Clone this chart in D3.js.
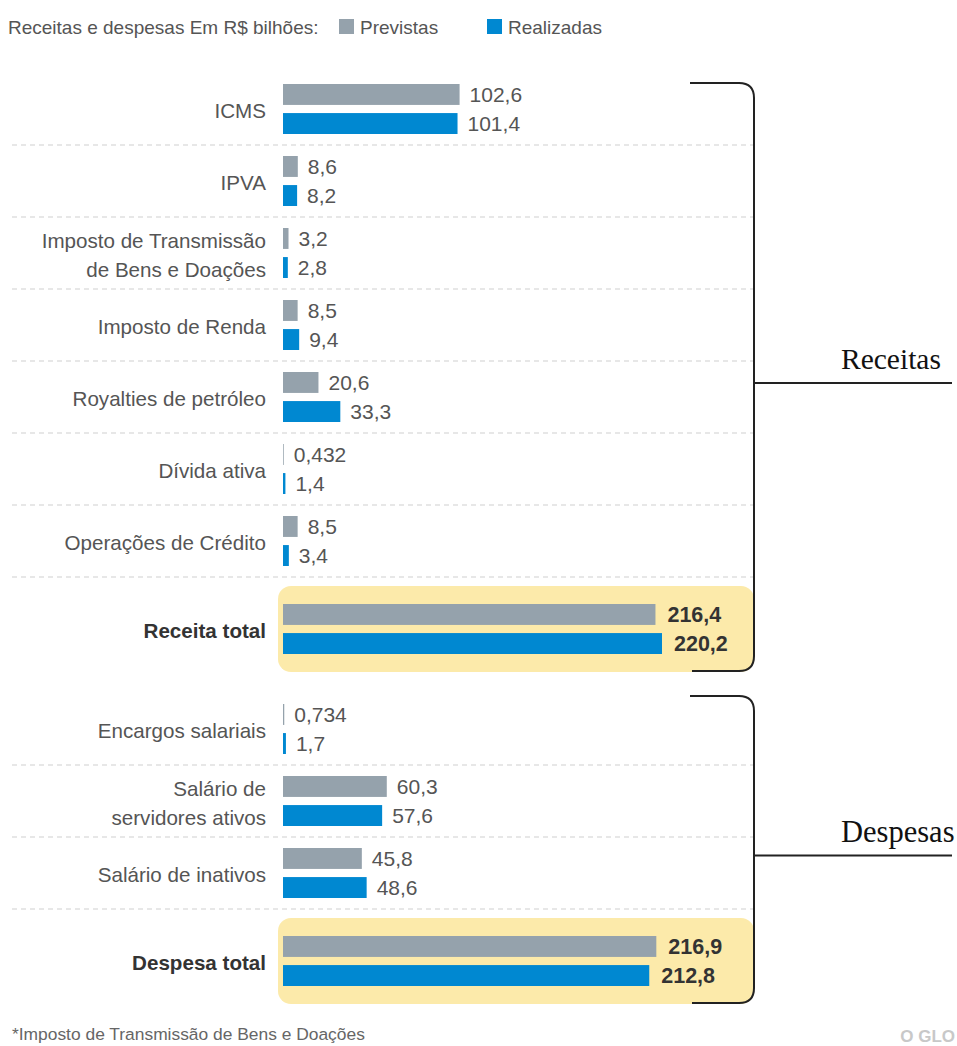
<!DOCTYPE html>
<html>
<head>
<meta charset="utf-8">
<script src="https://cdn.jsdelivr.net/npm/d3@7"></script>
<style>
  body { margin: 0; background: #fff; }
  svg { display: block; font-family: "Liberation Sans", Arial, sans-serif; }
</style>
</head>
<body>
<div id="chart"></div>
<script>
// ---- data ----
const series = ["Previstas", "Realizadas"];
const seriesColors = ["#95a2ac", "#0088d1"];

const receitasCategories = ["ICMS", "IPVA", "Imposto de Transmissão\nde Bens e Doações", "Imposto de Renda",
  "Royalties de petróleo", "Dívida ativa", "Operações de Crédito"];
const receitasPrevistas = [102.6, 8.6, 3.2, 8.5, 20.6, 0.432, 8.5];
const receitasRealizadas = [101.4, 8.2, 2.8, 9.4, 33.3, 1.4, 3.4];
const receitaTotalLabel = "Receita total";
const receitaTotalValues = [216.4, 220.2];

const despesasCategories = ["Encargos salariais", "Salário de\nservidores ativos", "Salário de inativos"];
const despesasPrevistas = [0.734, 60.3, 45.8];
const despesasRealizadas = [1.7, 57.6, 48.6];
const despesaTotalLabel = "Despesa total";
const despesaTotalValues = [216.9, 212.8];

const legendTitle = "Receitas e despesas Em R$ bilhões:";
const footnote = "*Imposto de Transmissão de Bens e Doações";
const brand = "O GLO";

// ---- layout ----
const W = 957, H = 1046;
const rowH = 72, boxGap = 9, boxH = 86;
const labelX = 266, bracketX = 754;

const svg = d3.select("#chart").append("svg").attr("width", W).attr("height", H);

const x = d3.scaleLinear().domain([0, 220.2]).range([283, 662]);
const pair = d3.scaleBand().domain(series).range([-25, 25]).paddingInner(0.28);
const color = d3.scaleOrdinal().domain(series).range(seriesColors);
const fmt = v => String(v).replace(".", ",");

const sections = [
  { name: "Receitas", cats: receitasCategories, prev: receitasPrevistas, real: receitasRealizadas,
    totalLabel: receitaTotalLabel, totalValues: receitaTotalValues, top: 73, bracketTop: 83 },
  { name: "Despesas", cats: despesasCategories, prev: despesasPrevistas, real: despesasRealizadas,
    totalLabel: despesaTotalLabel, totalValues: despesaTotalValues, top: 693, bracketTop: 696 }
];

// legend
const legend = svg.append("g").attr("transform", "translate(0,27)");
legend.append("text").attr("x", 8).attr("dy", "0.35em")
  .attr("font-size", 19).attr("fill", "#555").text(legendTitle);
const legendX = [339, 487];
series.forEach((s, i) => {
  legend.append("rect").attr("x", legendX[i]).attr("y", -8).attr("width", 15).attr("height", 15)
    .attr("fill", color(s));
  legend.append("text").attr("x", legendX[i] + 21).attr("dy", "0.35em")
    .attr("font-size", 19).attr("fill", "#555").text(s);
});

function drawPair(g, cy, values, total) {
  series.forEach((s, i) => {
    const v = values[i];
    g.append("rect")
      .attr("x", x(0)).attr("y", cy + pair(s))
      .attr("width", x(v) - x(0)).attr("height", pair.bandwidth())
      .attr("fill", color(s));
    g.append("text")
      .attr("x", x(v) + (total ? 12 : 10))
      .attr("y", cy + pair(s) + pair.bandwidth() / 2)
      .attr("dy", "0.37em")
      .attr("font-size", total ? 21.5 : 21)
      .attr("font-weight", total ? "bold" : "normal")
      .attr("fill", total ? "#333" : "#555")
      .text(fmt(v));
  });
}

function drawLabel(g, cy, label, bold) {
  const lines = label.split("\n");
  const t = g.append("text").attr("text-anchor", "end")
    .attr("font-size", 20.6)
    .attr("font-weight", bold ? "bold" : "normal")
    .attr("fill", bold ? "#333" : "#555");
  lines.forEach((ln, i) => {
    t.append("tspan").attr("x", labelX)
      .attr("y", cy + 2 + (i - (lines.length - 1) / 2) * 29)
      .attr("dy", "0.35em").text(ln);
  });
}

sections.forEach(sec => {
  const g = svg.append("g");
  const y = d3.scaleBand().domain(sec.cats).range([sec.top, sec.top + rowH * sec.cats.length]);
  const boxTop = y.range()[1] + boxGap;
  const boxCy = boxTop + boxH / 2;
  const bottom = boxTop + boxH - 1;

  // dashed separators
  g.selectAll("line.sep").data(sec.cats).enter().append("line")
    .attr("x1", 12).attr("x2", bracketX)
    .attr("y1", d => y(d) + y.bandwidth()).attr("y2", d => y(d) + y.bandwidth())
    .attr("stroke", "#cfcfcf").attr("stroke-dasharray", "5,4");

  // total box
  g.append("rect").attr("x", 278).attr("y", boxTop).attr("width", bracketX - 278).attr("height", boxH)
    .attr("rx", 13).attr("fill", "#fceaaa");

  sec.cats.forEach((c, i) => {
    const cy = y(c) + y.bandwidth() / 2;
    drawLabel(g, cy, c, false);
    drawPair(g, cy, [sec.prev[i], sec.real[i]], false);
  });
  drawLabel(g, boxCy, sec.totalLabel, true);
  drawPair(g, boxCy, sec.totalValues, true);

  // bracket
  const top = sec.bracketTop, r = 15;
  const mid = (top + bottom) / 2 + 6;
  g.append("path")
    .attr("d", `M690,${top}H${bracketX - r}Q${bracketX},${top} ${bracketX},${top + r}` +
      `V${bottom - r}Q${bracketX},${bottom} ${bracketX - r},${bottom}H692` +
      `M${bracketX},${mid}H952`)
    .attr("fill", "none").attr("stroke", "#222").attr("stroke-width", 2);
  g.append("text").attr("x", 841).attr("y", mid - 14)
    .attr("font-family", "'Liberation Serif', 'Times New Roman', serif")
    .attr("font-size", sec.name === "Despesas" ? 30.5 : 29.5).attr("fill", "#111").text(sec.name);
});

// footer
svg.append("text").attr("x", 12).attr("y", 1034).attr("dy", "0.35em")
  .attr("font-size", 17.4).attr("fill", "#666").text(footnote);
svg.append("text").attr("x", 955).attr("y", 1036).attr("dy", "0.35em").attr("text-anchor", "end")
  .attr("font-size", 17).attr("font-weight", "bold").attr("fill", "#c8c8c8").text(brand);
</script>
</body>
</html>
